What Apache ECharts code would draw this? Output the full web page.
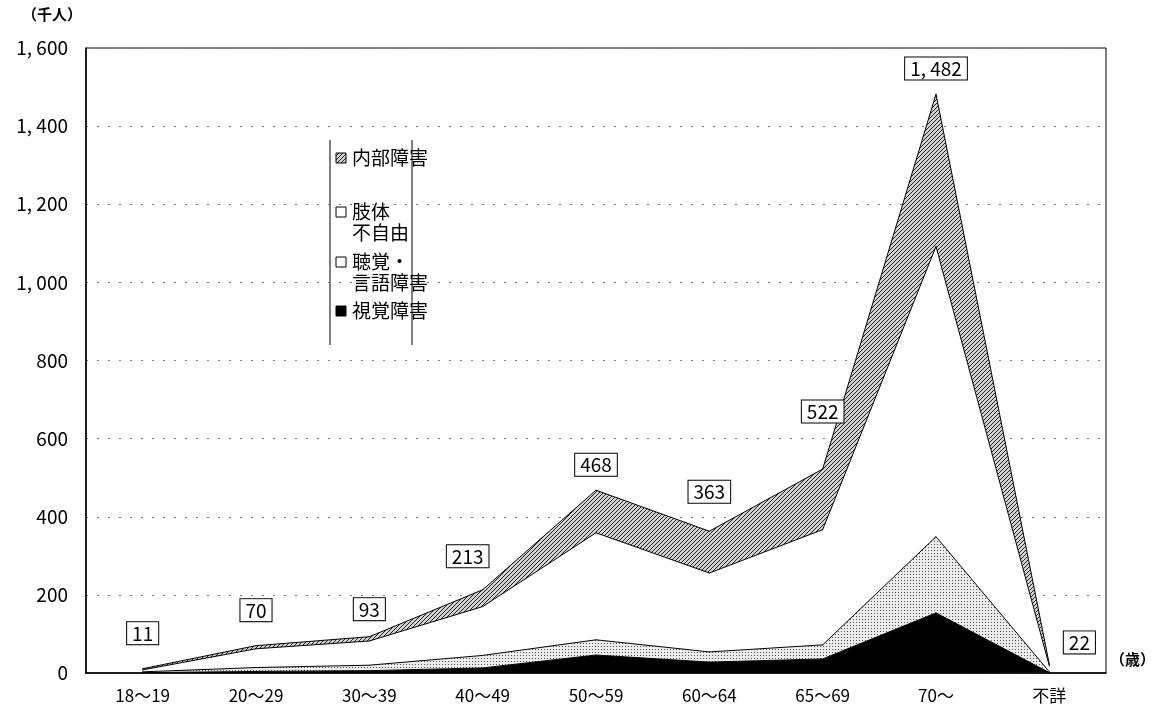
<!DOCTYPE html>
<html>
<head>
<meta charset="utf-8">
<script src="https://cdn.jsdelivr.net/npm/echarts@6/dist/echarts.min.js"></script>
<style>
  html, body { margin: 0; padding: 0; background: #fff; }
  #chart { width: 1155px; height: 718px; }
</style>
</head>
<body>
<div id="chart"></div>
<script>
// age groups
const ageGroups = ['18～19', '20～29', '30～39', '40～49', '50～59', '60～64', '65～69', '70～', '不詳'];
// thousand persons
const visual = [1, 4, 6, 13, 46, 28, 36, 154, 1];
const hearing = [2, 10, 14, 32, 39, 26, 36, 195, 2];
const limb = [5, 48, 62, 125, 274, 202, 295, 743, 15];
const internal = [3, 8, 11, 43, 109, 107, 155, 390, 4];
const totals = [11, 70, 93, 213, 468, 363, 522, 1482, 22];
const yTicks = [0, 200, 400, 600, 800, 1000, 1200, 1400, 1600];

const JP_FONT = '"Noto Sans CJK JP", sans-serif';
const NUM_FONT = '"Liberation Sans Narrow", "Noto Sans CJK JP", sans-serif';

// nudges for the boxed totals, as placed in the original figure
const labelNudge = [[0, -10], [0, -10], [0, -2], [-15, -8], [0, 0], [0, -14], [0, -32], [0, 0], [0, -3]];

function fmtNum(v) {
  // old style thousands separator "1, 600"
  return v >= 1000 ? Math.floor(v / 1000) + ', ' + String(v % 1000).padStart(3, '0') : String(v);
}

function hatchPattern() {
  const c = document.createElement('canvas');
  c.width = 4; c.height = 4;
  const ctx = c.getContext('2d');
  ctx.fillStyle = '#d2d2d2';
  ctx.fillRect(0, 0, 4, 4);
  ctx.strokeStyle = '#222';
  ctx.lineWidth = 1;
  ctx.beginPath();
  ctx.moveTo(-1, 5); ctx.lineTo(5, -1);
  ctx.stroke();
  return { image: c, repeat: 'repeat' };
}

function dotPattern() {
  const c = document.createElement('canvas');
  c.width = 3; c.height = 3;
  const ctx = c.getContext('2d');
  ctx.fillStyle = '#ececec';
  ctx.fillRect(0, 0, 3, 3);
  ctx.fillStyle = '#555';
  ctx.fillRect(1, 1, 1, 1);
  return { image: c, repeat: 'repeat' };
}

const chart = echarts.init(document.getElementById('chart'));

const hatch = hatchPattern();
const dots = dotPattern();

function areaSeries(name, data, fill) {
  return {
    name: name,
    type: 'line',
    stack: 'total',
    data: data,
    symbol: 'circle',
    symbolSize: 1,
    smooth: false,
    lineStyle: { color: '#000', width: 1 },
    itemStyle: { color: '#000' },
    areaStyle: { color: fill, opacity: 1 },
    emphasis: { disabled: true }
  };
}

const topSeries = areaSeries('内部障害', internal.map((v, i) => {
  const item = { value: v, label: { offset: labelNudge[i] } };
  if (i === ageGroups.length - 1) {
    item.label = { position: 'right', distance: 14, offset: [0, -22] };
  }
  return item;
}), hatch);
topSeries.label = {
  show: true,
  position: 'top',
  distance: 14,
  formatter: p => fmtNum(totals[p.dataIndex]),
  fontFamily: NUM_FONT,
  fontSize: 19,
  color: '#000',
  backgroundColor: '#fff',
  borderColor: '#000',
  borderWidth: 1,
  padding: [2, 5, 1, 5]
};

// legend drawn as graphic so that the icon sits on the first text line
function legendItem(y, fill, lines) {
  return [
    { type: 'rect', shape: { x: 336, y: y - 5, width: 10, height: 10 },
      style: { fill: fill, stroke: '#000', lineWidth: 1 } },
    { type: 'text', left: 352, top: y - 11,
      style: { text: lines, font: '19px ' + JP_FONT, fill: '#000', lineHeight: 21 } }
  ];
}

const option = {
  backgroundColor: '#fff',
  animation: false,
  grid: { left: 86, right: 49, top: 48, bottom: 45, show: true, borderColor: '#000', borderWidth: 1 },
  xAxis: {
    type: 'category',
    data: ageGroups,
    boundaryGap: true,
    axisLine: { lineStyle: { color: '#000', width: 1.5 } },
    axisTick: { show: false },
    axisLabel: { fontFamily: JP_FONT, fontSize: 17, color: '#000', margin: 14 }
  },
  yAxis: {
    type: 'value',
    min: yTicks[0],
    max: yTicks[yTicks.length - 1],
    interval: 200,
    axisLine: { show: true, lineStyle: { color: '#000', width: 1.5 } },
    axisTick: { show: false },
    axisLabel: {
      fontFamily: NUM_FONT,
      fontSize: 19,
      color: '#000',
      margin: 18,
      formatter: v => fmtNum(v)
    },
    splitLine: { lineStyle: { color: '#777', type: [2, 9], width: 1 } }
  },
  graphic: [
    { type: 'text', left: 22, top: 7, style: { text: '（千人）', font: 'bold 15px ' + JP_FONT, fill: '#000' } },
    { type: 'text', left: 1110, top: 652, style: { text: '（歳）', font: 'bold 15px ' + JP_FONT, fill: '#000' } },
    { type: 'line', shape: { x1: 330, y1: 140, x2: 330, y2: 345 }, style: { stroke: '#000', lineWidth: 1 } },
    { type: 'line', shape: { x1: 412, y1: 140, x2: 412, y2: 345 }, style: { stroke: '#000', lineWidth: 1 } },
    ...legendItem(158, hatch, '内部障害'),
    ...legendItem(212, '#fff', '肢体\n不自由'),
    ...legendItem(262, '#fff', '聴覚・\n言語障害'),
    ...legendItem(311, '#000', '視覚障害')
  ],
  series: [
    areaSeries('視覚障害', visual, '#000'),
    areaSeries('聴覚・言語障害', hearing, dots),
    areaSeries('肢体不自由', limb, '#fff'),
    topSeries
  ]
};

chart.setOption(option);
</script>
</body>
</html>
